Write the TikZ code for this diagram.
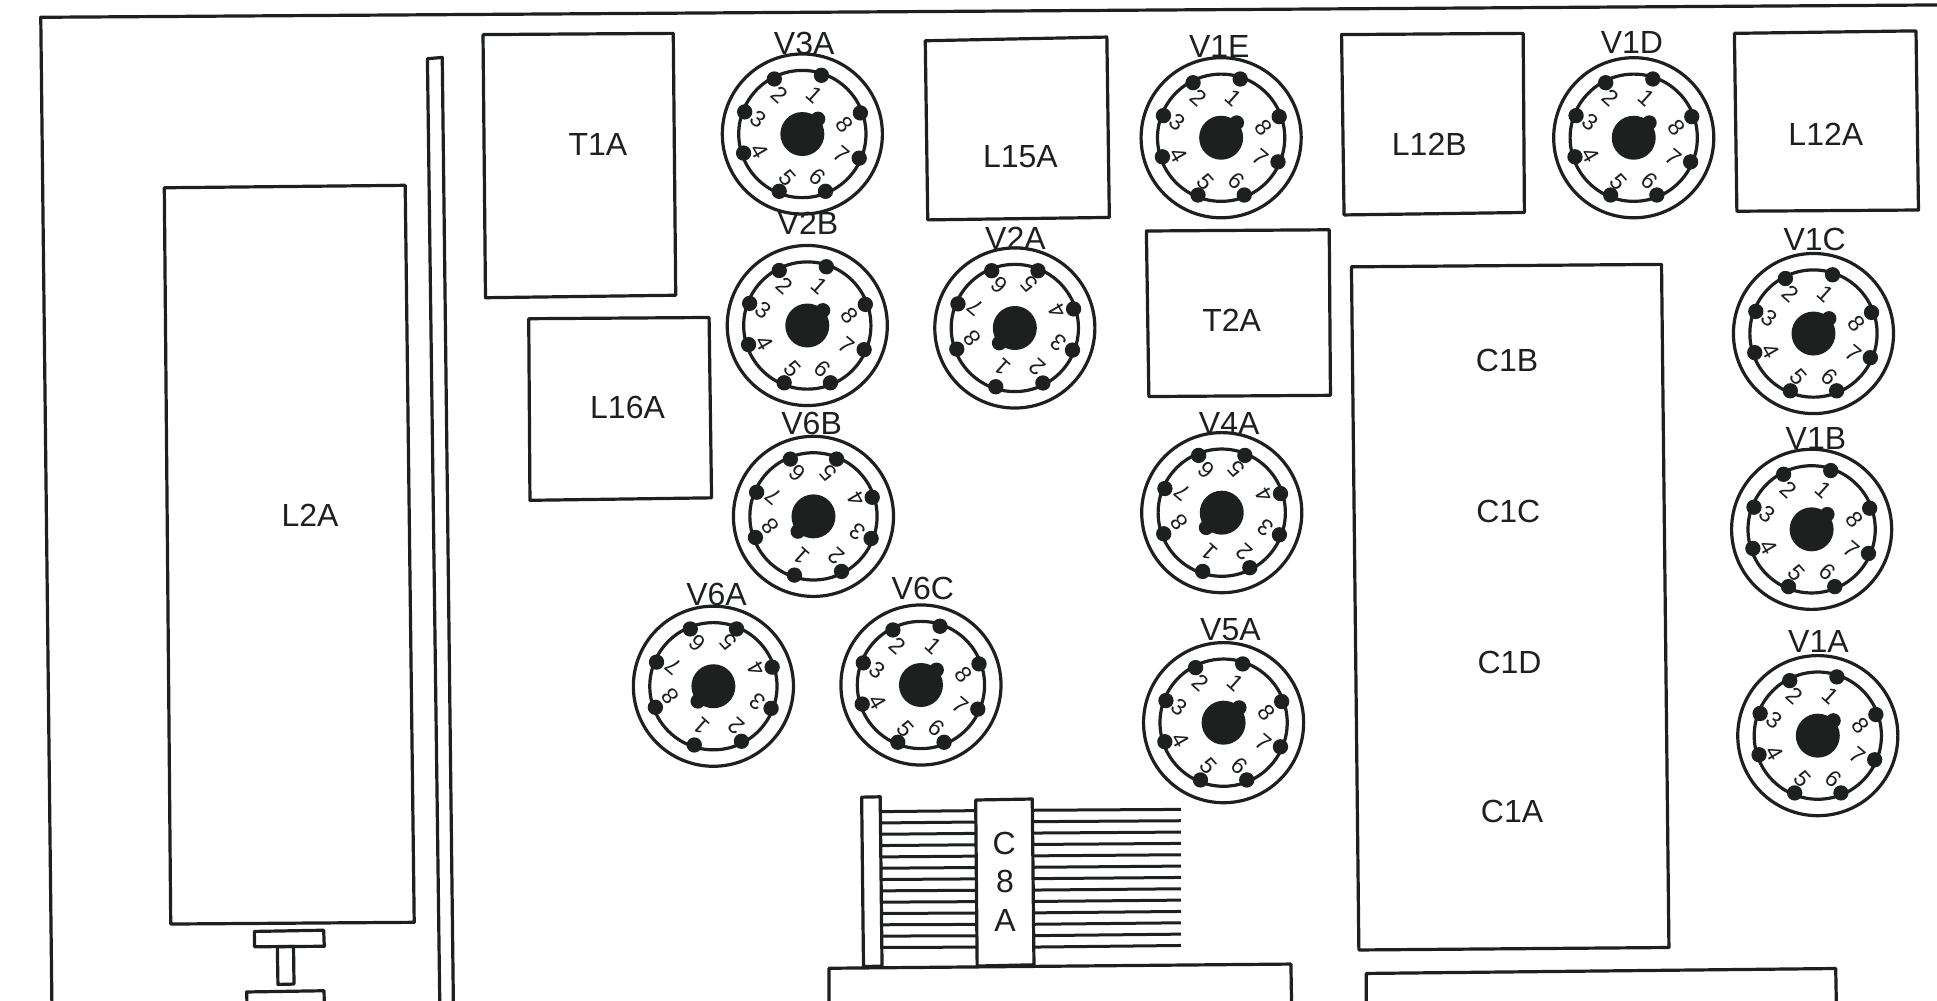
\documentclass[tikz,border=0pt]{standalone}
\usepackage{fontspec}
\setmainfont{Liberation Sans}
\begin{document}
\begin{tikzpicture}[x=1.23533pt,y=-1.23533pt,
  ln/.style={draw=ink,line width=3.2pt,line join=round},
  comb/.style={draw=ink,line width=3pt},
  lbl/.style={text=ink,inner sep=0pt,font=\fontsize{32}{32}\selectfont},
  digit/.style={text=ink,inner sep=0pt,font=\fontsize{23}{23}\selectfont}]
\definecolor{ink}{HTML}{1E2020}
\useasboundingbox (0,0) rectangle (1568,810.3);
\fill[white] (0,0) rectangle (1568,810.3);
\newcommand{\tubesocket}[6]{% tag, cx, cy, rot, lx, ly
  \draw[ln] (#2,#3) circle[radius=64.8];
  \draw[ln] (#2,#3) circle[radius=51.5];
  \foreach \n/\a in {1/72,2/117,3/159,4/198,5/248,6/292,7/337,8/20}{
    \pgfmathsetmacro{\px}{#2+50*cos(\a+#4)}
    \pgfmathsetmacro{\py}{#3-50*sin(\a+#4)}
    \fill[ink] (\px,\py) circle[radius=6.2];
  }
  \foreach \n/\a/\r/\t in {1/72.6/33.5/-42,2/120/37/-42,3/161/37.5/-38,4/202/37.5/-60,5/251/37.5/-48,6/290/37/-42,7/333/36/-40,8/13/35.5/-52}{
    \pgfmathsetmacro{\px}{#2+\r*cos(\a+#4)}
    \pgfmathsetmacro{\py}{#3-\r*sin(\a+#4)}
    \pgfmathsetmacro{\tr}{\t+#4}
    \node[digit,rotate=\tr] (#1-d\n) at (\px,\py) {\n};
  }
  \pgfmathsetmacro{\kx}{#2+17.5*cos(44+#4)}
  \pgfmathsetmacro{\ky}{#3-17.5*sin(44+#4)}
  \fill[ink] (#2,#3) circle[radius=17.8];
  \fill[ink] (\kx,\ky) circle[radius=6];
  \node[lbl] (#1) at (#5,#6) {#1};
}
% frame and wall
\draw[ln] (42,812) -- (33,14) -- (1570,4);
\draw[ln] (356,812) -- (346,47.5) -- (358,46.5) -- (367,812);
% coils
\draw[ln] (133,152) -- (328,150) -- (335.3,746.6) -- (138.2,748) -- cycle;
\node[lbl] (L2A) at (251,417) {L2A};
\draw[ln] (205.9,754) -- (262,753) -- (262.5,766) -- (206,766.4) -- cycle;
\draw[ln] (224.5,766.4) -- (237.6,766.2) -- (238,796.6) -- (225,796.9) -- cycle;
\draw[ln] (199.9,812) -- (199.7,803) -- (262.3,802) -- (262.5,812);
\draw[ln] (391,28) -- (545,27) -- (547,239) -- (393,241) -- cycle;
\node[lbl] (T1A) at (484,117) {T1A};
\draw[ln] (749,33) -- (896,30) -- (898,176) -- (751,178) -- cycle;
\node[lbl] (L15A) at (826,127) {L15A};
\draw[ln] (1086,28) -- (1233,27) -- (1234,172) -- (1088,174) -- cycle;
\node[lbl] (L12B) at (1157,117) {L12B};
\draw[ln] (1404,27) -- (1551,25) -- (1553,170) -- (1406,171) -- cycle;
\node[lbl] (L12A) at (1478,109) {L12A};
\draw[ln] (928,187) -- (1076,186) -- (1077,320) -- (930,321) -- cycle;
\node[lbl] (T2A) at (997,259) {T2A};
\draw[ln] (428,258) -- (574,257) -- (576,403) -- (429,405) -- cycle;
\node[lbl] (L16A) at (508,330) {L16A};
\draw[ln] (1094,216) -- (1345,214) -- (1351,767) -- (1100,769) -- cycle;
\node[lbl] (C1B) at (1220,292) {C1B};
\node[lbl] (C1C) at (1221,414) {C1C};
\node[lbl] (C1D) at (1222,536) {C1D};
\node[lbl] (C1A) at (1224,657) {C1A};
% bottom chassis boxes
\draw[ln] (671,812) -- (671,783.8) -- (1045,780.4) -- (1045.5,812);
\draw[ln] (1106,812) -- (1106,788) -- (1486,784) -- (1486.5,812);
% C8A comb
\foreach \i in {0,...,12}{
  \pgfmathsetmacro{\yl}{657+\i*9.16}
  \pgfmathsetmacro{\yr}{656.2+\i*9.21}
  \draw[comb] (714,\yl) -- (790,\yr);
  \pgfmathsetmacro{\yla}{655.9+\i*9.23}
  \pgfmathsetmacro{\yra}{655.2+\i*9.18}
  \draw[comb] (836,\yla) -- (956,\yra);
}
\draw[ln] (697.5,645.3) -- (712.5,645) -- (714,782) -- (699,782.5) -- cycle;
\draw[ln] (789.8,647.6) -- (835.6,646.8) -- (837,781) -- (791,782) -- cycle;
\node[lbl] (C8) at (812.8,682.7) {C};
\node[lbl] (C8n) at (813.6,713.7) {8};
\node[lbl] (C8a) at (813.6,744.8) {A};
% tube sockets
\tubesocket{V3A}{649.5}{108.5}{0}{651}{35}
\tubesocket{V1E}{988.5}{111.5}{0}{987}{38}
\tubesocket{V1D}{1322.5}{111.5}{0}{1321}{34}
\tubesocket{V2B}{653.5}{263.5}{0}{654}{181}
\tubesocket{V2A}{821.5}{265.5}{180}{822}{193}
\tubesocket{V6B}{658.5}{418}{180}{657}{343}
\tubesocket{V6A}{577.5}{555.5}{180}{580}{481}
\tubesocket{V6C}{745.5}{554.5}{0}{747}{476}
\tubesocket{V4A}{989}{415}{180}{995}{343}
\tubesocket{V5A}{990.5}{585}{0}{996}{510}
\tubesocket{V1C}{1468}{270}{0}{1469}{194}
\tubesocket{V1B}{1466.5}{428.5}{0}{1470}{355}
\tubesocket{V1A}{1471.5}{595.5}{0}{1472}{519}
\end{tikzpicture}
\end{document}
